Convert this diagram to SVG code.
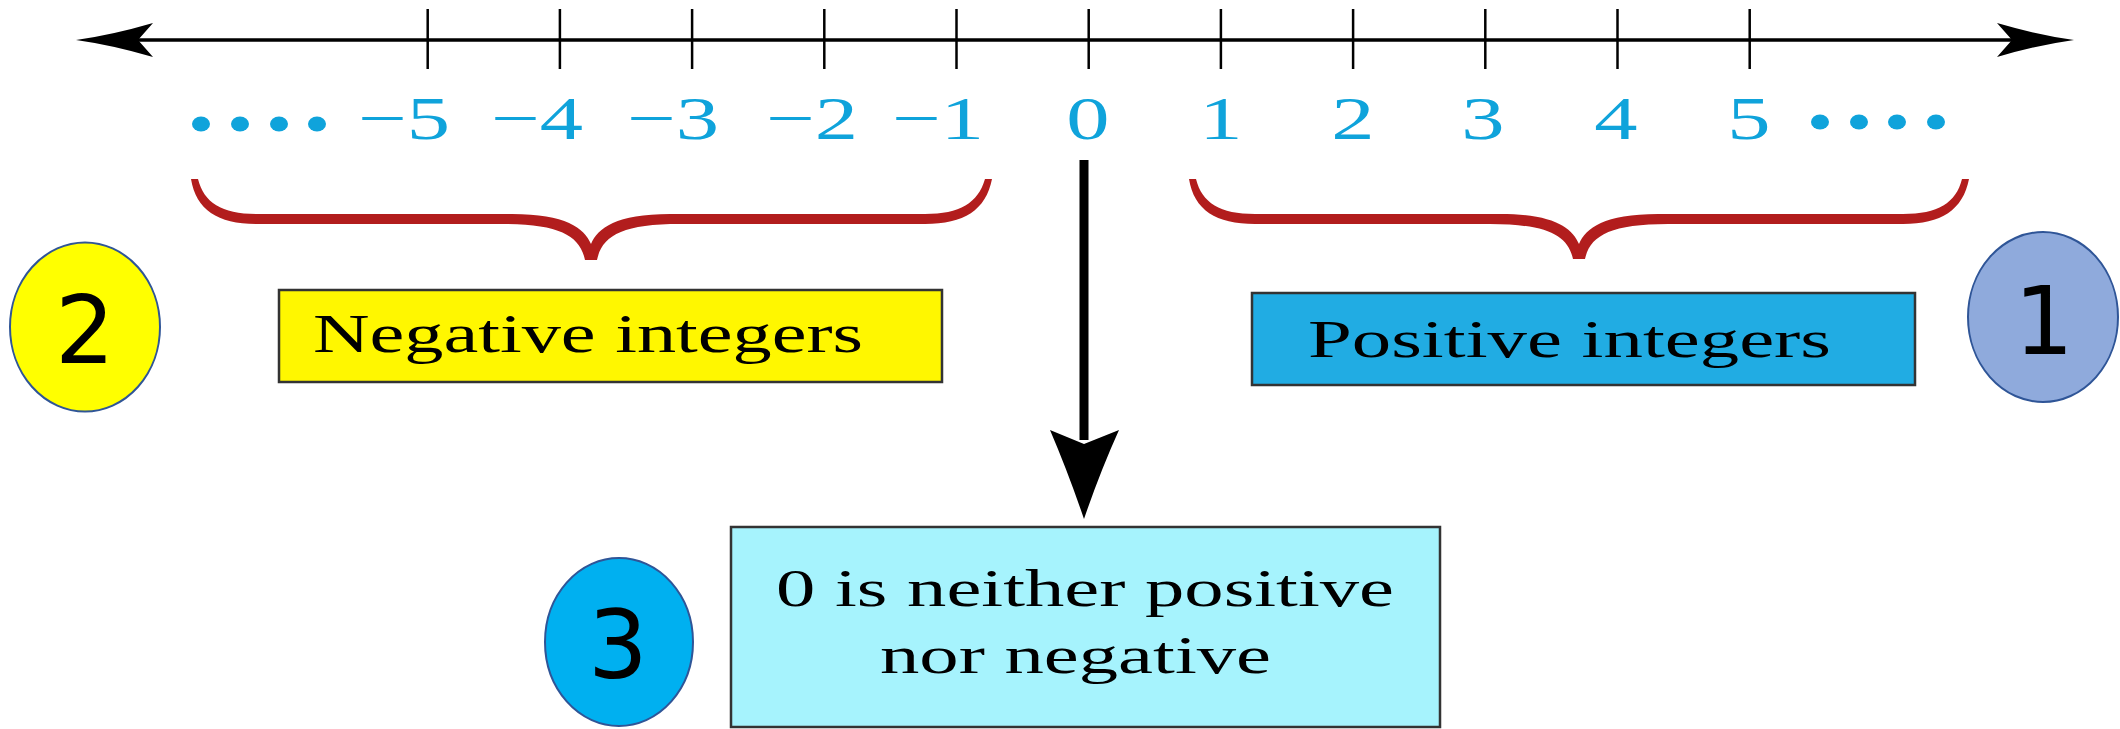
<svg xmlns="http://www.w3.org/2000/svg" width="2120" height="729" viewBox="0 0 2120 729">
<style>
.tick{stroke:#000;stroke-width:2.5}
.num{font-family:"Liberation Serif","Times New Roman",serif;font-size:61px;fill:#0FA3DB;text-anchor:middle}
.dot{fill:#0FA3DB}
.brace{fill:#B21D1D}
.box{stroke:#333;stroke-width:2.5}
.btxt{font-family:"Liberation Serif","Times New Roman",serif;fill:#000}
.badge{stroke:#2F5597;stroke-width:2}
.bnum{font-family:"DejaVu Sans","Liberation Sans",sans-serif;font-size:94px;fill:#000;text-anchor:middle}
</style>
<rect width="2120" height="729" fill="#fff"/>
<g id="number-line">
  <line x1="130" y1="40" x2="2025" y2="40" stroke="#000" stroke-width="3.5"/>
  <path d="M76,40 Q112,35 153,23 L138,40 L153,57 Q112,45 76,40 Z" fill="#000"/>
  <path d="M2074,40 Q2038,35 1997,23 L2012,40 L1997,57 Q2038,45 2074,40 Z" fill="#000"/>
  <line class="tick" x1="427.7" y1="9" x2="427.7" y2="69"/>
  <line class="tick" x1="559.9" y1="9" x2="559.9" y2="69"/>
  <line class="tick" x1="692.1" y1="9" x2="692.1" y2="69"/>
  <line class="tick" x1="824.3" y1="9" x2="824.3" y2="69"/>
  <line class="tick" x1="956.5" y1="9" x2="956.5" y2="69"/>
  <line class="tick" x1="1088.7" y1="9" x2="1088.7" y2="69"/>
  <line class="tick" x1="1220.9" y1="9" x2="1220.9" y2="69"/>
  <line class="tick" x1="1353.1" y1="9" x2="1353.1" y2="69"/>
  <line class="tick" x1="1485.3" y1="9" x2="1485.3" y2="69"/>
  <line class="tick" x1="1617.5" y1="9" x2="1617.5" y2="69"/>
  <line class="tick" x1="1749.7" y1="9" x2="1749.7" y2="69"/>
  <ellipse class="dot" cx="201" cy="124" rx="9" ry="7.5"/>
  <ellipse class="dot" cx="240" cy="124" rx="9" ry="7.5"/>
  <ellipse class="dot" cx="279" cy="124" rx="9" ry="7.5"/>
  <ellipse class="dot" cx="317" cy="124" rx="9" ry="7.5"/>
  <ellipse class="dot" cx="1820" cy="122" rx="9" ry="7.5"/>
  <ellipse class="dot" cx="1859" cy="122" rx="9" ry="7.5"/>
  <ellipse class="dot" cx="1897" cy="122" rx="9" ry="7.5"/>
  <ellipse class="dot" cx="1936" cy="122" rx="9" ry="7.5"/>
  <text class="num" transform="translate(404 139) scale(1.42 1)">−5</text>
  <text class="num" transform="translate(537 139) scale(1.42 1)">−4</text>
  <text class="num" transform="translate(673 139) scale(1.42 1)">−3</text>
  <text class="num" transform="translate(812 139) scale(1.42 1)">−2</text>
  <text class="num" transform="translate(938 139) scale(1.42 1)">−1</text>
  <text class="num" transform="translate(1088 139) scale(1.42 1)">0</text>
  <text class="num" transform="translate(1221 139) scale(1.42 1)">1</text>
  <text class="num" transform="translate(1353 139) scale(1.42 1)">2</text>
  <text class="num" transform="translate(1483 139) scale(1.42 1)">3</text>
  <text class="num" transform="translate(1616 139) scale(1.42 1)">4</text>
  <text class="num" transform="translate(1749 139) scale(1.42 1)">5</text>
</g>
<g id="brace-negative">
  <path class="brace" d="M198,179 C204,203 222,214 257,214 L512,214 C566,214 584,228 591,244 C598,228 616,214 670,214 L925,214 C960,214 978,203 985,179 L992,179 C986,210 964,224 925,224 L680,224 C622,224 602,236 597,260 L585,260 C580,236 560,224 502,224 L257,224 C218,224 196,210 191,179 Z"/>
</g>
<g id="brace-positive">
  <path class="brace" d="M1196,179 C1202,203 1220,214 1255,214 L1500,214 C1554,214 1572,228 1579,244 C1586,228 1604,214 1658,214 L1903,214 C1938,214 1956,203 1962,179 L1969,179 C1963,210 1941,224 1903,224 L1668,224 C1610,224 1590,236 1585,259 L1573,259 C1568,236 1548,224 1490,224 L1255,224 C1216,224 1194,210 1189,179 Z"/>
</g>
<g id="negative-integers">
  <rect class="box" x="279" y="290" width="663" height="92" fill="#FFF700"/>
  <text class="btxt" x="313" y="352" font-size="54" textLength="550" lengthAdjust="spacingAndGlyphs">Negative integers</text>
</g>
<g id="positive-integers">
  <rect class="box" x="1252" y="293" width="663" height="92" fill="#21ACE3"/>
  <text class="btxt" x="1308" y="357" font-size="53" textLength="523" lengthAdjust="spacingAndGlyphs">Positive integers</text>
</g>
<g id="zero-box">
  <rect class="box" x="731" y="527" width="709" height="200" fill="#A6F3FD"/>
  <text class="btxt" x="776" y="606" font-size="53" textLength="618" lengthAdjust="spacingAndGlyphs">0 is neither positive</text>
  <text class="btxt" x="880" y="673" font-size="53" textLength="391" lengthAdjust="spacingAndGlyphs">nor negative</text>
</g>
<g id="badge-1">
  <ellipse class="badge" cx="2043" cy="317" rx="75" ry="85" fill="#8FAADC"/>
  <text class="bnum" x="2044" y="354">1</text>
</g>
<g id="badge-2">
  <ellipse class="badge" cx="85" cy="327" rx="75" ry="84.5" fill="#FFFF00"/>
  <text class="bnum" x="85" y="363">2</text>
</g>
<g id="badge-3">
  <ellipse class="badge" cx="619" cy="642" rx="74" ry="84" fill="#00B0F0"/>
  <text class="bnum" x="618" y="678">3</text>
</g>
<g id="connectors">
  <line x1="1084" y1="160" x2="1084" y2="440" stroke="#000" stroke-width="9"/>
  <path d="M1050,430 L1084,444 L1119,430 Q1100,472 1084,519 Q1068,472 1050,430 Z" fill="#000"/>
</g>
</svg>
